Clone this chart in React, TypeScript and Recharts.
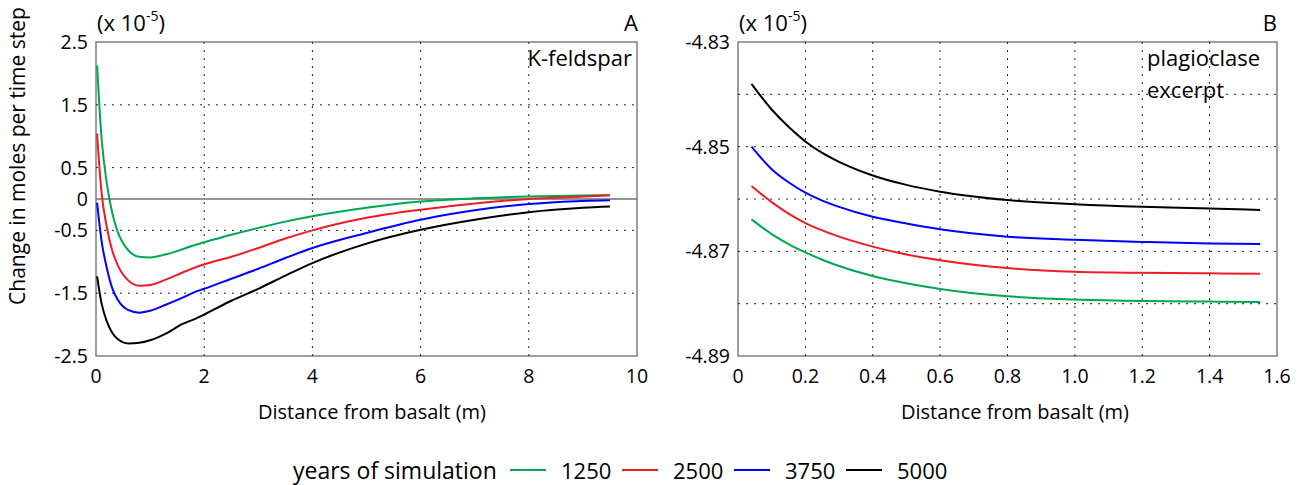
import React from 'react';
import { LineChart, Line, XAxis, YAxis, ReferenceLine, ReferenceArea } from 'recharts';

const FONT = '"Open Sans", "DejaVu Sans", sans-serif';

const seriesNames = ['1250', '2500', '3750', '5000'];
const seriesColors = ['#00a651', '#ed1c24', '#0000ff', '#000000'];

// Panel A: K-feldspar
const distA = [0.02, 0.1, 0.2, 0.3, 0.4, 0.6, 0.8, 1.0, 1.3, 1.6, 1.8, 2, 2.5, 3, 3.5, 4, 5, 6, 7, 8, 9, 9.5];
const kfs1250 = [2.13, 1.0, 0.25, -0.22, -0.52, -0.82, -0.92, -0.93, -0.88, -0.8, -0.74, -0.69, -0.57, -0.46, -0.36, -0.275, -0.14, -0.04, 0.01, 0.04, 0.055, 0.06];
const kfs2500 = [1.04, 0.12, -0.45, -0.82, -1.05, -1.3, -1.38, -1.37, -1.28, -1.17, -1.1, -1.04, -0.92, -0.78, -0.63, -0.5, -0.3, -0.17, -0.07, 0.0, 0.04, 0.06];
const kfs3750 = [-0.06, -0.65, -1.1, -1.42, -1.6, -1.77, -1.81, -1.78, -1.68, -1.57, -1.49, -1.43, -1.27, -1.11, -0.94, -0.78, -0.54, -0.33, -0.18, -0.08, -0.03, -0.02];
const kfs5000 = [-1.23, -1.65, -1.95, -2.13, -2.23, -2.3, -2.29, -2.25, -2.14, -1.99, -1.92, -1.84, -1.62, -1.43, -1.22, -1.02, -0.71, -0.49, -0.33, -0.21, -0.14, -0.12];

// Panel B: plagioclase excerpt
const distB = [0.04, 0.1, 0.15, 0.2, 0.25, 0.3, 0.4, 0.5, 0.6, 0.8, 1.0, 1.2, 1.4, 1.55];
const plag1250 = [-4.8639, -4.8667, -4.8686, -4.8702, -4.8716, -4.8728, -4.8747, -4.8761, -4.8772, -4.8786, -4.8792, -4.8795, -4.8796, -4.8797];
const plag2500 = [-4.8575, -4.8606, -4.8628, -4.8646, -4.866, -4.8672, -4.8691, -4.8706, -4.8717, -4.8732, -4.8739, -4.8741, -4.8742, -4.8743];
const plag3750 = [-4.85, -4.8543, -4.8568, -4.8588, -4.8603, -4.8615, -4.8634, -4.8647, -4.8658, -4.8672, -4.8678, -4.8682, -4.8685, -4.8686];
const plag5000 = [-4.838, -4.8429, -4.8462, -4.849, -4.8512, -4.8529, -4.8555, -4.8573, -4.8586, -4.8602, -4.861, -4.8615, -4.8618, -4.8621];

const xTicksA = [0, 2, 4, 6, 8, 10];
const yTicksA = [2.5, 1.5, 0.5, 0, -0.5, -1.5, -2.5];
const xGridA = [2, 4, 6, 8];
const yGridA = [1.5, 0.5, -0.5, -1.5];

const xTicksB = [0, 0.2, 0.4, 0.6, 0.8, 1.0, 1.2, 1.4, 1.6];
const yTicksB = [-4.83, -4.85, -4.87, -4.89];
const xGridB = [0.2, 0.4, 0.6, 0.8, 1.0, 1.2, 1.4];
const yGridB = [-4.84, -4.85, -4.86, -4.87, -4.88];

const keys = ['s1250', 's2500', 's3750', 's5000'];

function buildRows(xs: number[], ys: number[][]) {
  return xs.map((x, i) => {
    const row: Record<string, number> = { x };
    keys.forEach((k, j) => {
      row[k] = ys[j][i];
    });
    return row;
  });
}

const rowsA = buildRows(distA, [kfs1250, kfs2500, kfs3750, kfs5000]);
const rowsB = buildRows(distB, [plag1250, plag2500, plag3750, plag5000]);

const tickStyle = { fill: '#000', fontSize: 19.5, fontFamily: FONT };

type PanelProps = {
  rows: Record<string, number>[];
  width: number;
  marginLeft: number;
  marginRight: number;
  xDomain: [number, number];
  yDomain: [number, number];
  xTicks: number[];
  yTicks: number[];
  xGrid: number[];
  yGrid: number[];
  xFmt: (v: number) => string;
  yFmt: (v: number) => string;
  zeroLine?: boolean;
};

function Panel(p: PanelProps) {
  return (
    <LineChart
      width={p.width}
      height={390}
      data={p.rows}
      margin={{ top: 42, right: p.marginRight, bottom: 4, left: p.marginLeft }}
    >
      <XAxis
        type="number"
        dataKey="x"
        domain={p.xDomain}
        ticks={p.xTicks}
        interval={0}
        tickFormatter={p.xFmt}
        axisLine={false}
        tickLine={false}
        tick={tickStyle}
        tickMargin={7}
        height={30}
        allowDataOverflow
      />
      <YAxis
        type="number"
        domain={p.yDomain}
        ticks={p.yTicks}
        interval={0}
        tickFormatter={p.yFmt}
        axisLine={false}
        tickLine={false}
        tick={tickStyle}
        tickMargin={2}
        width={60}
        allowDataOverflow
      />
      {p.yGrid.map((v) => (
        <ReferenceLine key={'h' + v} y={v} stroke="#222" strokeWidth={1} strokeDasharray="2 6" />
      ))}
      {p.xGrid.map((v) => (
        <ReferenceLine key={'v' + v} x={v} stroke="#222" strokeWidth={1} strokeDasharray="2 6" />
      ))}
      {p.zeroLine ? <ReferenceLine y={0} stroke="#707070" strokeWidth={1.5} /> : null}
      {keys.map((k, i) => (
        <Line
          key={k}
          dataKey={k}
          type="monotone"
          stroke={seriesColors[i]}
          strokeWidth={2}
          dot={false}
          isAnimationActive={false}
        />
      ))}
      <ReferenceArea
        x1={p.xDomain[0]}
        x2={p.xDomain[1]}
        y1={p.yDomain[0]}
        y2={p.yDomain[1]}
        fill="none"
        fillOpacity={0}
        stroke="#808080"
        strokeWidth={1.5}
      />
    </LineChart>
  );
}

const textBase: React.CSSProperties = {
  position: 'absolute',
  fontFamily: FONT,
  fontSize: 20,
  color: '#000',
  lineHeight: 1,
  whiteSpace: 'nowrap',
};

const annot: React.CSSProperties = { ...textBase, fontSize: 22 };

function Exp() {
  return (
    <span>
      (x 10<sup style={{ fontSize: 14, verticalAlign: 'top', position: 'relative', top: -2 }}>-5</sup>)
    </span>
  );
}

export default function App() {
  return (
    <div style={{ position: 'absolute', left: 0, top: 0, width: 1313, height: 485, background: '#fff', overflow: 'hidden' }}>
      <div style={{ position: 'absolute', left: 0, top: 0 }}>
        <Panel
          rows={rowsA}
          width={660}
          marginLeft={36}
          marginRight={23}
          xDomain={[0, 10]}
          yDomain={[-2.5, 2.5]}
          xTicks={xTicksA}
          yTicks={yTicksA}
          xGrid={xGridA}
          yGrid={yGridA}
          xFmt={(v) => String(v)}
          yFmt={(v) => String(v)}
          zeroLine
        />
      </div>
      <div style={{ position: 'absolute', left: 660, top: 0 }}>
        <Panel
          rows={rowsB}
          width={653}
          marginLeft={18}
          marginRight={36}
          xDomain={[0, 1.6]}
          yDomain={[-4.89, -4.83]}
          xTicks={xTicksB}
          yTicks={yTicksB}
          xGrid={xGridB}
          yGrid={yGridB}
          xFmt={(v) => (v === 0 ? '0' : v.toFixed(1))}
          yFmt={(v) => v.toFixed(2)}
        />
      </div>

      {/* annotations */}
      <div style={{ ...annot, left: 97, top: 11 }}><Exp /></div>
      <div style={{ ...annot, left: 739, top: 11 }}><Exp /></div>
      <div style={{ ...annot, right: 1313 - 638, top: 11 }}>A</div>
      <div style={{ ...annot, right: 1313 - 1277, top: 11 }}>B</div>
      <div style={{ ...annot, right: 1313 - 632, top: 46 }}>K-feldspar</div>
      <div style={{ ...annot, left: 1147, top: 46 }}>plagioclase</div>
      <div style={{ ...annot, left: 1147, top: 78 }}>excerpt</div>

      {/* y axis label */}
      <div
        style={{
          ...textBase,
          fontSize: 21,
          left: 17,
          top: 156,
          transform: 'translate(-50%, -50%) rotate(-90deg)',
        }}
      >
        Change in moles per time step
      </div>

      {/* x axis labels */}
      <div style={{ ...textBase, left: 372, top: 412, transform: 'translate(-50%, -50%)' }}>Distance from basalt (m)</div>
      <div style={{ ...textBase, left: 1015, top: 412, transform: 'translate(-50%, -50%)' }}>Distance from basalt (m)</div>

      {/* legend */}
      <div style={{ ...textBase, fontSize: 23, left: 293, top: 470, transform: 'translateY(-50%)' }}>years of simulation</div>
      {seriesNames.map((n, i) => (
        <div
          key={n}
          style={{
            ...textBase,
            fontSize: 22,
            left: 510 + i * 112,
            top: 470,
            transform: 'translateY(-50%)',
            display: 'flex',
            alignItems: 'center',
          }}
        >
          <span style={{ display: 'inline-block', width: 36, height: 2, background: seriesColors[i], marginRight: 15 }} />
          <span>{n}</span>
        </div>
      ))}
    </div>
  );
}
